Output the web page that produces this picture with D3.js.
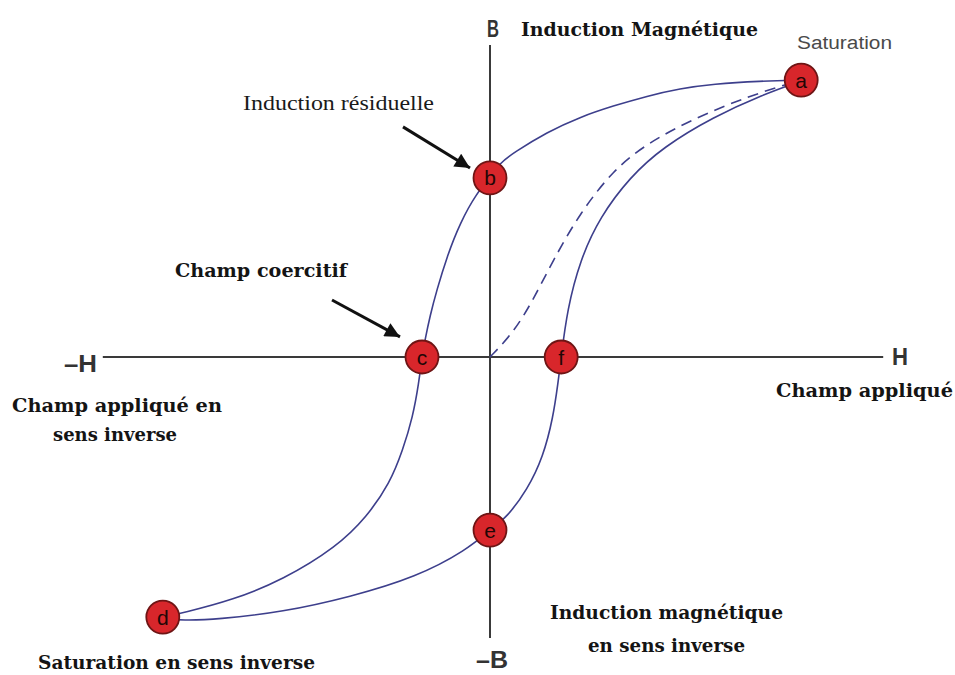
<!DOCTYPE html>
<html><head><meta charset="utf-8">
<script src="https://cdn.jsdelivr.net/npm/d3@7/dist/d3.min.js"></script>
<style>body{margin:0;background:#fff}svg{display:block}</style>
</head><body>
<svg id="chart" width="955" height="675"></svg>
<script>
// ---- data (H = champ, B = induction, arbitrary units) ----
const upperH = [7.78, 6.75, 5.58, 4.75, 3.93, 3.08, 2.25, 1.43, 0.58, 0.25, 0, -0.33, -0.75, -1.08, -1.33, -1.5, -1.62, -1.7, -1.78, -1.93, -2.18, -2.5, -3.08, -3.83, -5.18, -6.43, -7.68, -8.18];
const upperB = [9.23, 9.2, 9.1, 8.95, 8.7, 8.37, 8.0, 7.5, 6.8, 6.47, 5.97, 5.47, 4.47, 3.33, 2.23, 1.37, 0.6, 0, -0.87, -2.0, -3.1, -4.2, -5.33, -6.33, -7.43, -8.1, -8.53, -8.67];
const lowerH = [-8.18, -7.68, -6.83, -5.18, -3.5, -1.83, -0.58, 0, 0.43, 0.93, 1.33, 1.58, 1.7, 1.78, 1.93, 2.25, 2.75, 3.5, 4.33, 5.58, 6.83, 7.78];
const lowerB = [-8.72, -8.78, -8.75, -8.5, -8.0, -7.33, -6.43, -5.77, -5.33, -4.43, -3.33, -2.0, -0.87, 0, 1.57, 3.23, 4.67, 6.0, 7.0, 8.0, 8.75, 9.2];
const initH = [0, 0.58, 1.08, 1.58, 2.25, 3.08, 3.93, 5.18, 6.43, 7.5, 7.78];
const initB = [0, 0.8, 1.9, 3.23, 4.8, 6.23, 7.13, 8.0, 8.67, 9.13, 9.2];
const pointLabels = ["a", "b", "c", "d", "e", "f"];
const pointH = [7.78, 0, -1.7, -8.18, 0, 1.78];
const pointB = [9.23, 5.97, 0, -8.67, -5.77, 0];
const arrowTailH = [-2.175, -3.95];
const arrowTailB = [7.67, 1.9];
const arrowTipH = [-0.5, -2.25];
const arrowTipB = [6.3, 0.67];

const svg = d3.select("#chart");
const x = d3.scaleLinear().domain([-10, 10]).range([90, 890]);
const y = d3.scaleLinear().domain([-10, 10]).range([657, 57]);

// axes
const axisColor = "#3a3a3a";
svg.append("line").attr("x1", x(-9.68)).attr("x2", x(9.83)).attr("y1", y(0)).attr("y2", y(0))
  .attr("stroke", axisColor).attr("stroke-width", 2);
svg.append("line").attr("x1", x(0)).attr("x2", x(0)).attr("y1", y(10.4)).attr("y2", y(-9.37))
  .attr("stroke", axisColor).attr("stroke-width", 2);

const line = d3.line().x(d => x(d[0])).y(d => y(d[1])).curve(d3.curveBasis);
const curveColor = "#3d3f8c";
svg.append("path").datum(d3.zip(upperH, upperB)).attr("d", line)
  .attr("fill", "none").attr("stroke", curveColor).attr("stroke-width", 1.6);
svg.append("path").datum(d3.zip(lowerH, lowerB)).attr("d", line)
  .attr("fill", "none").attr("stroke", curveColor).attr("stroke-width", 1.6);
svg.append("path").datum(d3.zip(initH, initB)).attr("d", line)
  .attr("fill", "none").attr("stroke", curveColor).attr("stroke-width", 1.6)
  .attr("stroke-dasharray", "11,7");

// arrows
svg.append("defs").append("marker").attr("id", "ah")
  .attr("viewBox", "0 0 10 10").attr("refX", 10).attr("refY", 5)
  .attr("markerWidth", 7).attr("markerHeight", 5).attr("orient", "auto")
  .attr("markerUnits", "strokeWidth")
  .append("path").attr("d", "M0,0 L10,5 L0,10 Z").attr("fill", "#111");
d3.range(arrowTailH.length).forEach(i => {
  svg.append("line")
    .attr("x1", x(arrowTailH[i])).attr("y1", y(arrowTailB[i]))
    .attr("x2", x(arrowTipH[i])).attr("y2", y(arrowTipB[i]))
    .attr("stroke", "#111").attr("stroke-width", 3).attr("marker-end", "url(#ah)");
});

// points
const pts = svg.selectAll("g.pt").data(d3.range(pointLabels.length)).join("g")
  .attr("transform", i => `translate(${x(pointH[i])},${y(pointB[i])})`);
pts.append("circle").attr("r", 16.5).attr("fill", "#d8262b").attr("stroke", "#6e1515").attr("stroke-width", 1.8);
pts.append("text").text(i => pointLabels[i]).attr("text-anchor", "middle").attr("dy", "0.36em")
  .attr("font-family", "Liberation Sans, Arial, sans-serif").attr("font-size", 21)
  .attr("fill", "#220606");

// texts
const serif = "DejaVu Serif, serif";
const sans = "Liberation Sans, Arial, sans-serif";
function txt(s, xx, yy, len, opt) {
  const t = svg.append("text").text(s).attr("x", xx).attr("y", yy)
    .attr("font-family", opt.family).attr("font-size", opt.size)
    .attr("font-weight", opt.weight || "normal").attr("fill", opt.fill || "#111");
  if (len) t.attr("textLength", len).attr("lengthAdjust", "spacingAndGlyphs");
  return t;
}
const bold = {family: serif, size: 19, weight: "bold", fill: "#141414"};
txt("Induction Magnétique", 521, 36, 237, bold);
txt("Saturation", 797, 49, 95, {family: sans, size: 18, fill: "#4a4a4a"});
txt("Induction résiduelle", 243, 110, 191, {family: "Liberation Serif, serif", size: 21, fill: "#1a1a1a"});
txt("Champ coercitif", 175, 277, 172, bold);
txt("Champ appliqué", 776, 397, 177, bold);
txt("Champ appliqué en", 12, 412, 210, bold);
txt("sens inverse", 53, 441, 124, bold);
txt("Saturation en sens inverse", 38, 669, 277, bold);
txt("Induction magnétique", 550, 619, 233, bold);
txt("en sens inverse", 588, 652, 157, bold);
const axl = {family: sans, size: 23, weight: "bold", fill: "#333"};
txt("B", 487, 37, 12, axl);
txt("–B", 476, 668, 32, axl);
txt("–H", 64, 372, 33, axl);
txt("H", 892, 365, 16, axl);
</script>
</body></html>
